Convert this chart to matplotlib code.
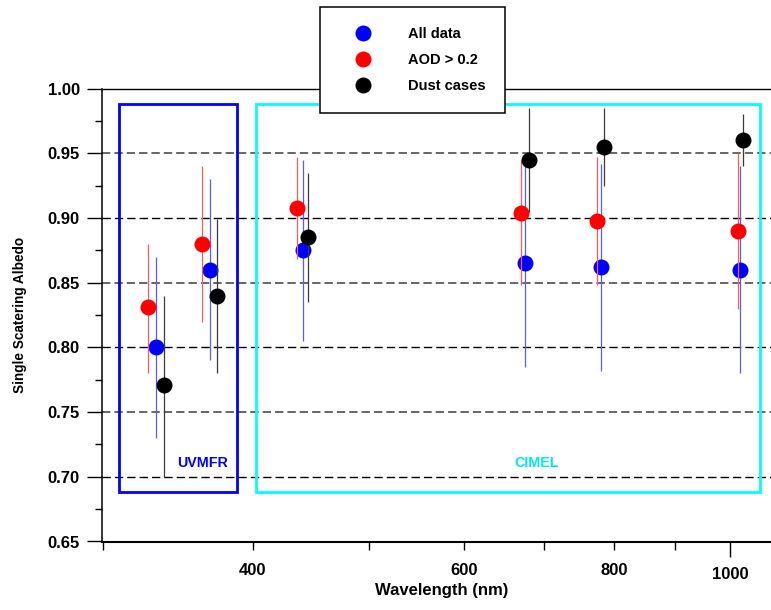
import numpy as np
import matplotlib
matplotlib.use("Agg")
import matplotlib.pyplot as plt
from matplotlib.ticker import FixedLocator, FuncFormatter
from matplotlib.patches import Rectangle

plt.rcParams['font.family'] = ['Liberation Sans', 'DejaVu Sans']
plt.rcParams['font.weight'] = 'bold'
plt.rcParams['axes.labelweight'] = 'bold'
plt.rcParams['lines.scale_dashes'] = False

# --- data ---
wavelength = np.array([332, 368, 440, 675, 780, 1020])

all_ssa = np.array([0.800, 0.860, 0.875, 0.865, 0.862, 0.860])
all_lo = np.array([0.730, 0.790, 0.805, 0.785, 0.782, 0.780])
all_hi = np.array([0.870, 0.930, 0.945, 0.942, 0.942, 0.940])

aod_ssa = np.array([0.831, 0.880, 0.908, 0.904, 0.898, 0.890])
aod_lo = np.array([0.780, 0.820, 0.868, 0.848, 0.848, 0.830])
aod_hi = np.array([0.880, 0.940, 0.947, 0.945, 0.947, 0.950])

dust_ssa = np.array([0.771, 0.840, 0.885, 0.945, 0.955, 0.960])
dust_lo = np.array([0.700, 0.780, 0.835, 0.905, 0.925, 0.940])
dust_hi = np.array([0.840, 0.899, 0.935, 0.985, 0.985, 0.980])

y_ticks = np.arange(0.65, 1.001, 0.05)
x_minor = [300, 400, 500, 600, 700, 800, 900]
x_labelled = [400, 600, 800]

# --- figure ---
fig = plt.figure(figsize=(7.71, 6.10), dpi=100)
ax = fig.add_axes([102 / 771, (610 - 541.5) / 610, 669 / 771, 452.9 / 610])
ax.set_xscale('log')
ax.set_xlim(299.3, 1082)
ax.set_ylim(0.65, 1.0)

# dashed horizontal grid
for i, yv in enumerate(y_ticks[1:-1]):
    if i % 2 == 0:
        ax.axhline(yv, color='black', lw=1.0, ls=(0, (6, 2.9)), zorder=0.5)
    else:
        ax.axhline(yv, color='#666666', lw=1.4, ls=(0, (6, 2.9)), zorder=0.5)

# instrument boxes
ax.add_patch(Rectangle((309.2, 0.688), 387.7 - 309.2, 0.988 - 0.688,
                       fill=False, edgecolor='#0000ff', lw=2.0, zorder=1))
ax.add_patch(Rectangle((402.1, 0.688), 1059 - 402.1, 0.988 - 0.688,
                       fill=False, edgecolor='#00ffff', lw=2.0, zorder=1))
ax.text(363, 0.7105, 'UVMFR', color='#0000ff', ha='center', va='center', fontsize=10.3)
ax.text(690, 0.7105, 'CIMEL', color='#00e8e8', ha='center', va='center', fontsize=10.3)

series = [
    ('All data', all_ssa, all_lo, all_hi, '#0000ff', '#5a5aff', 0),
    ('AOD > 0.2', aod_ssa, aod_lo, aod_hi, '#ff0000', '#ff5a5a', -5),
    ('Dust cases', dust_ssa, dust_lo, dust_hi, 'black', '#3a3a3a', 5),
]
for label, vals, lo, hi, col, barcol, shift in series:
    xs = wavelength + shift
    ax.errorbar(xs, vals, yerr=[vals - lo, hi - vals], fmt='none',
                ecolor=barcol, elinewidth=0.9, capsize=0, zorder=2)
    ax.plot(xs, vals, 'o', color=col, markersize=11.5, markeredgewidth=0,
            label=label, zorder=2)

# ticks
ax.yaxis.set_major_locator(FixedLocator(y_ticks))
ax.yaxis.set_minor_locator(FixedLocator(y_ticks[:-1] + 0.025))
ax.yaxis.set_major_formatter(FuncFormatter(lambda v, p: f'{v:.2f}'))
ax.xaxis.set_major_locator(FixedLocator([1000]))
ax.xaxis.set_minor_locator(FixedLocator(x_minor))
ax.xaxis.set_major_formatter(FuncFormatter(lambda v, p: f'{v:.0f}'))
ax.xaxis.set_minor_formatter(FuncFormatter(
    lambda v, p: f'{v:.0f}' if round(v) in x_labelled else ''))

ax.tick_params(axis='y', which='major', direction='out', length=10.8, width=1.0,
               pad=5.3, labelsize=12)
ax.tick_params(axis='y', which='minor', direction='out', length=5.0, width=1.0)
ax.tick_params(axis='x', which='major', direction='out', length=10.8, width=1.0,
               pad=7.3, labelsize=12)
ax.tick_params(axis='x', which='minor', direction='out', length=5.8, width=1.0,
               pad=9.7, labelsize=12)

ax.spines['right'].set_visible(False)
ax.spines['left'].set_linewidth(1.1)
ax.spines['bottom'].set_linewidth(1.5)
ax.spines['top'].set_linewidth(1.0)

ax.set_xlabel('Wavelength (nm)', fontsize=12, fontweight='bold')
ax.xaxis.set_label_coords((441.7 - 102) / 669, (541.5 - 583) / 452.9)
ax.xaxis.label.set_va('top')
ax.set_ylabel('Single Scatering Albedo', fontsize=9.8, fontweight='bold')
ax.yaxis.set_label_coords((27 - 102) / 669, (541.5 - 315) / 452.9)

leg = ax.legend(loc='upper left', bbox_to_anchor=(320 / 771, 1 - 6.7 / 610),
                bbox_transform=fig.transFigure, borderaxespad=0,
                fontsize=10.5, numpoints=1, handlelength=3.2, handletextpad=1.42,
                borderpad=1.38, labelspacing=0.83, fancybox=False,
                framealpha=1, edgecolor='black')
leg.get_frame().set_linewidth(1.1)
leg.set_zorder(10)

fig.savefig('out.png', dpi=100)
